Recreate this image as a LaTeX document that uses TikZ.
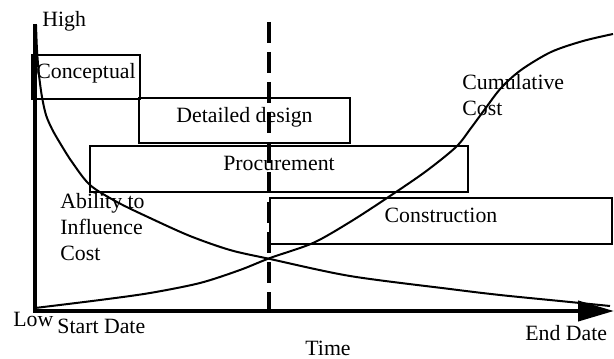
\documentclass[tikz,border=0pt]{standalone}
\usepackage{fontspec}
\setmainfont{Liberation Serif}
\usetikzlibrary{arrows.meta}

\begin{document}
\begin{tikzpicture}[
  x=0.5pt, y=-0.5pt,
  phase/.style={draw, rectangle, line width=1.2pt, inner sep=0pt,
                text height=7.5pt, text depth=6pt},
  axis/.style={line width=2pt},
  curve/.style={line width=1pt, smooth},
  lbl/.style={inner sep=0pt, anchor=base west},
  every node/.style={font=\fontsize{10.9}{13}\selectfont}
]

\useasboundingbox (0,0) rectangle (614,358);

% Axes
\coordinate (top) at (35,24);
\coordinate (origin) at (35,311);
\coordinate (tip) at (614,311);
\draw[axis, -{Triangle[length=18pt,width=10pt]}] (top) -- (origin) -- (tip);

% Split between design and construction
\coordinate (split top) at (269,22);
\coordinate (split bottom) at (269,320);
\draw[line width=1.8pt, dash pattern=on 10.5pt off 4.5pt] (split top) -- (split bottom);

% Project phases
\node[phase, minimum width=54pt, minimum height=22pt] (concept) at (86,77) {Conceptual};
\node[phase, minimum width=105.5pt, minimum height=22.5pt] (design) at (244.5,120.5) {Detailed design};
\node[phase, minimum width=189pt, minimum height=23pt] (procure) at (279,169) {Procurement};
\node[phase, minimum width=171pt, minimum height=23pt] (build) at (441,221) {Construction};

% Axis labels
\node[lbl] (high) at (42,27) {High};
\node[lbl] (low) at (13,326) {Low};
\node[lbl] (start) at (57,333) {Start Date};
\node[lbl] (end) at (525,340) {End Date};
\node[lbl] (time) at (305,355) {Time};

% Curve labels (base is the last line)
\node[lbl, align=left] (ability) at (60,260) {Ability to\\Influence\\Cost};
\node[lbl, align=left] (cumul) at (462,115) {Cumulative\\Cost};

% Ability to influence cost
\draw[curve] plot coordinates {(36,25) (37,50) (39,75) (42,97) (46,115) (52,129)
  (60,143) (72,162) (90,185) (117,202) (150,218) (190,236) (230,250) (270,259)
  (350,276) (450,289) (500,295) (560,301) (610,306)};

% Cumulative cost
\draw[curve] plot coordinates {(35,308) (100,300) (150,293) (200,283) (240,270)
  (270,258) (313,243) (350,222) (387,198) (425,172) (456,147) (471,128)
  (485,109) (501,88) (521,70) (551,52) (583,41) (613,34)};

\end{tikzpicture}
\end{document}
